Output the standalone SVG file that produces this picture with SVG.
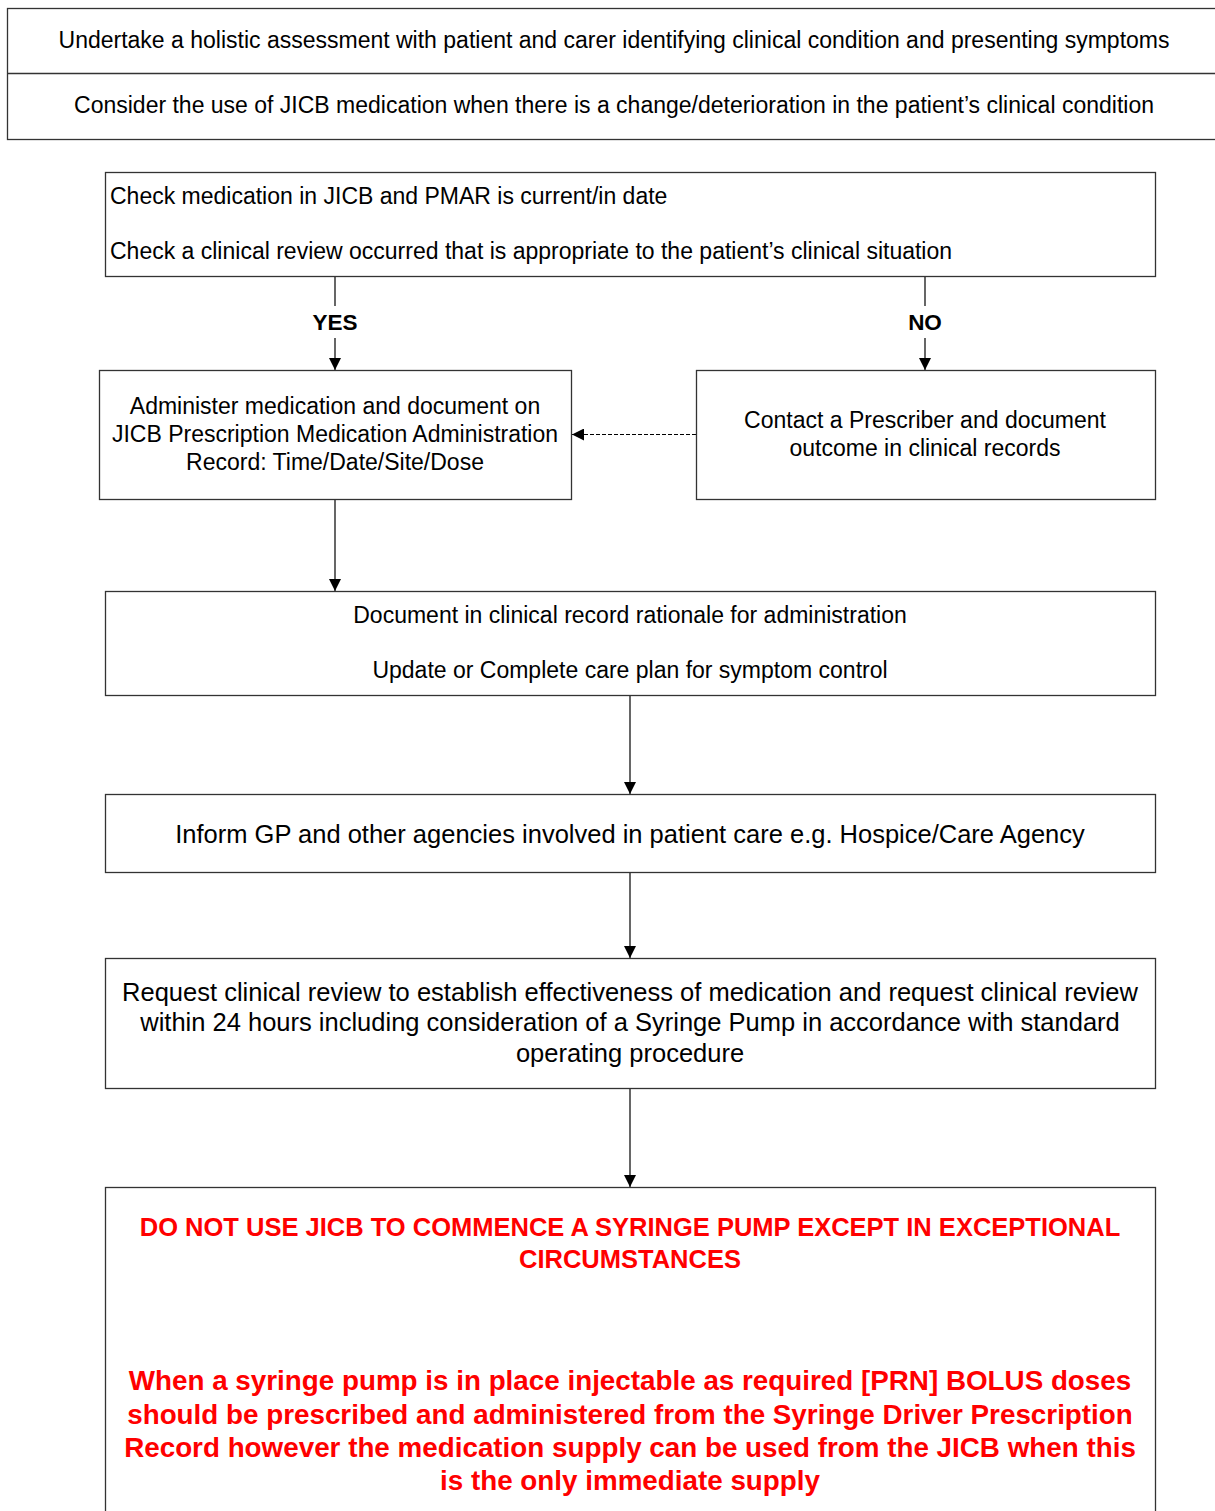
<svg xmlns="http://www.w3.org/2000/svg" width="1215" height="1511" viewBox="0 0 1215 1511">
<defs>
<marker id="arr" viewBox="0 0 12 12" refX="12" refY="6" markerWidth="12" markerHeight="12" markerUnits="userSpaceOnUse" orient="auto">
<path d="M0,0 L12,6 L0,12 z" fill="#000"/>
</marker>
<style>
.box{fill:#fff;stroke:#333;stroke-width:1.3}
.t{font-family:"Liberation Sans",Arial,sans-serif;font-size:23px;fill:#000}
.m{font-size:25.5px}
.c{text-anchor:middle}
.b{font-weight:bold}
.red{fill:#ff0000;font-weight:bold;text-anchor:middle}
.ln{stroke:#000;stroke-width:1.2;fill:none}
</style>
</defs>
<rect width="1215" height="1511" fill="#fff"/>
<g id="connectors">
<line class="ln" x1="335" y1="277" x2="335" y2="306"/>
<line class="ln" x1="335" y1="338" x2="335" y2="370" marker-end="url(#arr)"/>
<line class="ln" x1="925" y1="277" x2="925" y2="306"/>
<line class="ln" x1="925" y1="338" x2="925" y2="370" marker-end="url(#arr)"/>
<line class="ln" x1="696" y1="434.5" x2="572" y2="434.5" stroke-dasharray="4,2" marker-end="url(#arr)"/>
<line class="ln" x1="335" y1="499" x2="335" y2="591" marker-end="url(#arr)"/>
<line class="ln" x1="630" y1="696" x2="630" y2="794" marker-end="url(#arr)"/>
<line class="ln" x1="630" y1="873" x2="630" y2="958" marker-end="url(#arr)"/>
<line class="ln" x1="630" y1="1089" x2="630" y2="1187" marker-end="url(#arr)"/>
<text class="t c b" x="335" y="330" style="font-size:22.5px">YES</text>
<text class="t c b" x="925" y="330" style="font-size:22.5px">NO</text>
</g>
<g id="n-assess">
<rect class="box" x="7.5" y="8.5" width="1220" height="131"/>
<line x1="7.5" y1="73.5" x2="1215" y2="73.5" stroke="#333" stroke-width="1.3"/>
<text class="t c" x="614" y="48">Undertake a holistic assessment with patient and carer identifying clinical condition and presenting symptoms</text>
<text class="t c" x="614" y="113">Consider the use of JICB medication when there is a change/deterioration in the patient’s clinical condition</text>
</g>
<g id="n-check">
<rect class="box" x="105.5" y="172.5" width="1050" height="104"/>
<text class="t" x="110" y="204">Check medication in JICB and PMAR is current/in date</text>
<text class="t" x="110" y="259">Check a clinical review occurred that is appropriate to the patient’s clinical situation</text>
</g>
<g id="n-admin">
<rect class="box" x="99.5" y="370.5" width="472" height="129"/>
<text class="t c" x="335" y="414">Administer medication and document on</text>
<text class="t c" x="335" y="442">JICB Prescription Medication Administration</text>
<text class="t c" x="335" y="470">Record: Time/Date/Site/Dose</text>
</g>
<g id="n-contact">
<rect class="box" x="696.5" y="370.5" width="459" height="129"/>
<text class="t c" x="925" y="428">Contact a Prescriber and document</text>
<text class="t c" x="925" y="456">outcome in clinical records</text>
</g>
<g id="n-document">
<rect class="box" x="105.5" y="591.5" width="1050" height="104"/>
<text class="t c" x="630" y="623">Document in clinical record rationale for administration</text>
<text class="t c" x="630" y="678">Update or Complete care plan for symptom control</text>
</g>
<g id="n-inform">
<rect class="box" x="105.5" y="794.5" width="1050" height="78"/>
<text class="t c m" x="630" y="843">Inform GP and other agencies involved in patient care e.g. Hospice/Care Agency</text>
</g>
<g id="n-request">
<rect class="box" x="105.5" y="958.5" width="1050" height="130"/>
<text class="t c m" x="630" y="1001">Request clinical review to establish effectiveness of medication and request clinical review</text>
<text class="t c m" x="630" y="1031">within 24 hours including consideration of a Syringe Pump in accordance with standard</text>
<text class="t c m" x="630" y="1062">operating procedure</text>
</g>
<g id="n-warning">
<rect class="box" x="105.5" y="1187.5" width="1050" height="340"/>
<text class="t red" x="630" y="1236" style="font-size:25.5px">DO NOT USE JICB TO COMMENCE A SYRINGE PUMP EXCEPT IN EXCEPTIONAL</text>
<text class="t red" x="630" y="1268" style="font-size:25.5px">CIRCUMSTANCES</text>
<text class="t red" x="630" y="1390" style="font-size:27.8px">When a syringe pump is in place injectable as required [PRN] BOLUS doses</text>
<text class="t red" x="630" y="1424" style="font-size:27.8px">should be prescribed and administered from the Syringe Driver Prescription</text>
<text class="t red" x="630" y="1457" style="font-size:27.8px">Record however the medication supply can be used from the JICB when this</text>
<text class="t red" x="630" y="1490" style="font-size:27.8px">is the only immediate supply</text>
</g>
</svg>
